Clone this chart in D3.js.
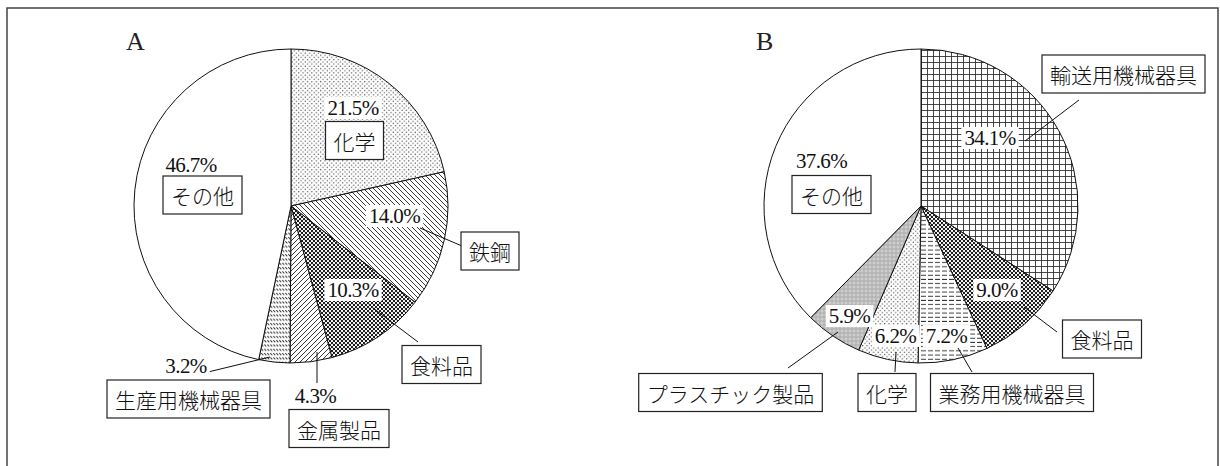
<!DOCTYPE html>
<html>
<head>
<meta charset="utf-8">
<script src="https://cdn.jsdelivr.net/npm/d3@7"></script>
<style>
  body { margin: 0; background: #fff; }
  svg { display: block; }
</style>
</head>
<body>
<svg id="chart" width="1220" height="466"></svg>
<script>
// ---- data ----
var namesA = ['化学', '鉄鋼', '食料品', '金属製品', '生産用機械器具', 'その他'];
var valuesA = [21.5, 14.0, 10.3, 4.3, 3.2, 46.7];
var fillsA = ['dotsFine', 'hatchDown', 'dotsDense', 'hatchUp', 'ticks', 'none'];

var namesB = ['輸送用機械器具', '食料品', '業務用機械器具', '化学', 'プラスチック製品', 'その他'];
var valuesB = [34.1, 9.0, 7.2, 6.2, 5.9, 37.6];
var fillsB = ['grid', 'dotsDense', 'dashH', 'dotsFine', 'plastic', 'none'];

// ---- layout (offsets from the pie centre) ----
// pct: percent label, box: name box centre, lead: leader line or null
var layoutA = [
  {pct: [62, -98], box: [63.5, -65.5], lead: null},
  {pct: [103.5, 10], box: [199, 45], lead: [[129, 22], [171, 40]]},
  {pct: [62, 84], box: [150.5, 158.5], lead: [[82, 102], [127, 136]]},
  {pct: [24.5, 190], box: [48, 222.5], lead: [[26, 146], [26, 177]]},
  {pct: [-105, 160], box: [-102.5, 193], lead: [[-83, 166], [-21, 151]]},
  {pct: [-100, -41], box: [-88.5, -11], lead: null}
];
var layoutB = [
  {pct: [69, -68], box: [202.5, -132], lead: [[104, -65], [158, -106]]},
  {pct: [76, 84], box: [181, 133], lead: [[103, 101], [136, 126]]},
  {pct: [25.5, 130], box: [91, 186.5], lead: [[37, 142], [51, 166]]},
  {pct: [-25.5, 130], box: [-34, 186.5], lead: [[-25, 146], [-26, 166]]},
  {pct: [-71.5, 110], box: [-190.5, 186.5], lead: [[-83, 126], [-133, 162]]},
  {pct: [-99.5, -45], box: [-89.5, -11.5], lead: null}
];

var radius = 157;
var svg = d3.select('#chart');

// frame
svg.append('path')
  .attr('d', 'M7,466 V8 H1218 V466')
  .attr('fill', 'none')
  .attr('stroke', '#444')
  .attr('stroke-width', 1.5);

///////////////////////////////////////////////////////////////////////////////
// PATTERNS
var defs = svg.append('defs');
function pattern(id, w, h) {
  return defs.append('pattern')
    .attr('id', id)
    .attr('patternUnits', 'userSpaceOnUse')
    .attr('width', w)
    .attr('height', h);
}
var p;
p = pattern('dotsFine', 4.4, 4.4);
p.append('rect').attr('width', 4.4).attr('height', 4.4).attr('fill', '#fff');
p.append('circle').attr('cx', 1.1).attr('cy', 1.1).attr('r', 0.6).attr('fill', '#333');
p.append('circle').attr('cx', 3.3).attr('cy', 3.3).attr('r', 0.6).attr('fill', '#333');

p = pattern('dotsDense', 4, 4);
p.append('rect').attr('width', 4).attr('height', 4).attr('fill', '#fff');
p.append('circle').attr('cx', 1).attr('cy', 1).attr('r', 1.15).attr('fill', '#111');
p.append('circle').attr('cx', 3).attr('cy', 3).attr('r', 1.15).attr('fill', '#111');

p = pattern('hatchDown', 5, 5);
p.append('rect').attr('width', 5).attr('height', 5).attr('fill', '#fff');
p.append('path').attr('d', 'M0,0 L5,5 M-1,4 L1,6 M4,-1 L6,1')
  .attr('stroke', '#222').attr('stroke-width', 0.9);

p = pattern('hatchUp', 5, 5);
p.append('rect').attr('width', 5).attr('height', 5).attr('fill', '#fff');
p.append('path').attr('d', 'M0,5 L5,0 M-1,1 L1,-1 M4,6 L6,4')
  .attr('stroke', '#222').attr('stroke-width', 0.9);

p = pattern('ticks', 3, 4.3);
p.append('rect').attr('width', 3).attr('height', 4.3).attr('fill', '#fff');
p.append('path').attr('d', 'M0.3,1 L2.3,3')
  .attr('stroke', '#222').attr('stroke-width', 0.9);

p = pattern('grid', 6, 6);
p.append('rect').attr('width', 6).attr('height', 6).attr('fill', '#fff');
p.append('path').attr('d', 'M0,0.5 H6 M0.5,0 V6')
  .attr('stroke', '#333').attr('stroke-width', 0.9);

p = pattern('dashH', 7, 4.2);
p.append('rect').attr('width', 7).attr('height', 4.2).attr('fill', '#fff');
p.append('path').attr('d', 'M0,2 H5')
  .attr('stroke', '#222').attr('stroke-width', 0.9);

p = pattern('plastic', 4, 4);
p.append('rect').attr('width', 4).attr('height', 4).attr('fill', '#bcbcbc');
p.append('circle').attr('cx', 1).attr('cy', 1).attr('r', 0.7).attr('fill', '#eee');
p.append('circle').attr('cx', 3).attr('cy', 3).attr('r', 0.6).attr('fill', '#999');

///////////////////////////////////////////////////////////////////////////////
// PIE
var pie = d3.pie().sort(null).value(function(d) { return d; });
var arc = d3.arc().innerRadius(0).outerRadius(radius);

function drawPie(cx, cy, title, names, values, fills, layout) {
  var g = svg.append('g').attr('transform', 'translate(' + cx + ',' + cy + ')');

  g.append('text')
    .attr('x', -165)
    .attr('y', -156)
    .attr('font-family', 'Liberation Serif, serif')
    .attr('font-size', 26)
    .attr('fill', '#222')
    .text(title);

  g.selectAll('path.slice')
    .data(pie(values))
    .enter()
    .append('path')
    .attr('class', 'slice')
    .attr('d', arc)
    .attr('fill', function(d, i) { return fills[i] === 'none' ? '#fff' : 'url(#' + fills[i] + ')'; })
    .attr('stroke', '#111')
    .attr('stroke-width', 1);

  layout.forEach(function(L, i) {
    // leader line
    if (L.lead) {
      g.append('line')
        .attr('x1', L.lead[0][0]).attr('y1', L.lead[0][1])
        .attr('x2', L.lead[1][0]).attr('y2', L.lead[1][1])
        .attr('stroke', '#111')
        .attr('stroke-width', 1);
    }

    // percent label with white backing
    var pg = g.append('g');
    var pt = pg.append('text')
      .attr('x', L.pct[0])
      .attr('y', L.pct[1])
      .attr('text-anchor', 'middle')
      .attr('dominant-baseline', 'central')
      .attr('font-family', 'Liberation Serif, serif')
      .attr('font-size', 21)
      .attr('letter-spacing', -0.6)
      .attr('fill', '#111')
      .text(values[i].toFixed(1) + '%');
    var pb = pt.node().getBBox();
    pg.insert('rect', 'text')
      .attr('x', pb.x - 3).attr('y', pb.y + 1)
      .attr('width', pb.width + 6).attr('height', pb.height - 2)
      .attr('fill', '#fff');

    // name box
    var bg = g.append('g');
    var bt = bg.append('text')
      .attr('x', L.box[0])
      .attr('y', L.box[1])
      .attr('text-anchor', 'middle')
      .attr('dominant-baseline', 'central')
      .attr('font-family', 'Noto Sans CJK JP, sans-serif')
      .attr('font-size', 21)
      .attr('font-weight', 300)
      .attr('fill', '#111')
      .text(names[i]);
    var bb = bt.node().getBBox();
    bg.insert('rect', 'text')
      .attr('x', bb.x - 8).attr('y', L.box[1] - 19)
      .attr('width', bb.width + 16).attr('height', 38)
      .attr('fill', '#fff')
      .attr('stroke', '#222')
      .attr('stroke-width', 1.2);
  });
}

drawPie(291, 206, 'A', namesA, valuesA, fillsA, layoutA);
drawPie(921, 206, 'B', namesB, valuesB, fillsB, layoutB);
</script>
</body>
</html>
